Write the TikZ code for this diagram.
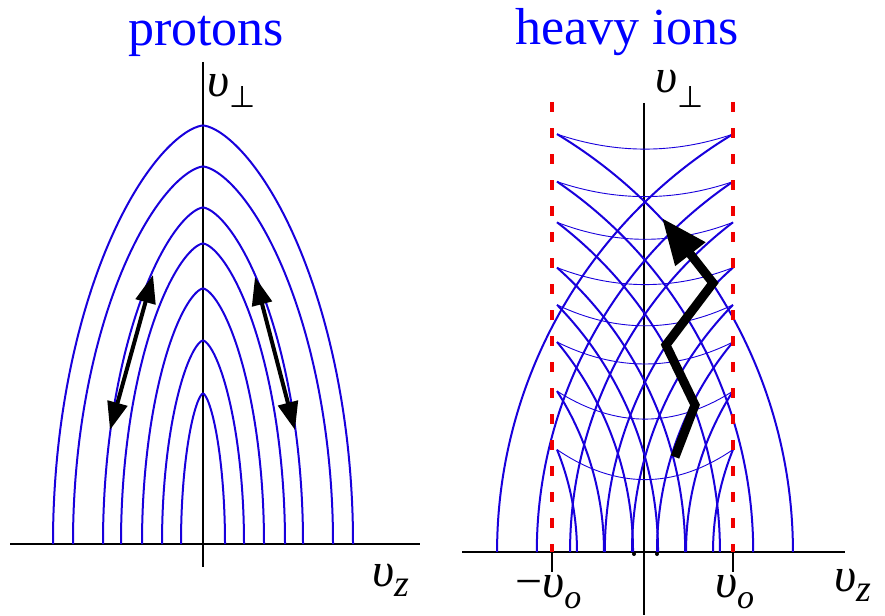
\documentclass[tikz,border=0pt]{standalone}
\usepackage{fontspec}
\setmainfont{Liberation Serif}
\newfontfamily\dejavu{DejaVu Sans}
\usetikzlibrary{arrows.meta}
\definecolor{curveblue}{RGB}{25,0,220}
\definecolor{titleblue}{RGB}{0,0,255}
\definecolor{dashred}{RGB}{240,0,0}
\newcommand{\vsym}{{\fontsize{48}{52}\selectfont\itshape υ}}
\newcommand{\perpsym}{{\dejavu\fontsize{30}{32}\selectfont ⊥}}
\newcommand{\subsym}[1]{{\fontsize{38}{40}\selectfont\itshape #1}}
\newcommand{\subo}{{\fontsize{34}{38}\selectfont\itshape o}}
\begin{document}
\begin{tikzpicture}[x=1pt,y=-1pt,
  axisline/.style={black, line width=2.2pt},
  arch/.style={curveblue, line width=2pt},
  thinarc/.style={curveblue, line width=0.9pt},
  resline/.style={dashred, line width=4pt, dash pattern=on 10pt off 16pt},
  dblarrow/.style={black, line width=4pt, {Triangle[length=28pt,width=20pt]}-{Triangle[length=28pt,width=20pt]}},
  zig/.style={black, line width=9pt, line join=miter, -{Triangle[length=46pt,width=36pt]}},
  title/.style={titleblue, font=\fontsize{52}{60}\selectfont, anchor=base, inner sep=0pt},
  lab/.style={anchor=base west, inner sep=0pt}]
\useasboundingbox (0,0) rectangle (885,615);
\fill[white] (0,0) rectangle (885,615);

% ---------- titles
\node[title] (tp) at (206,46) {protons};
\node[title] (th) at (627,45) {heavy ions};

% ---------- left panel
\draw[axisline] (10,544) -- (420,544);
\draw[axisline] (203,62) -- (203,567);
\foreach \aw/\hh in {150/418.5,130/377.5,100/336.5,82/300.5,61/255.5,41/203.5,22/150.5}
  \draw[arch] plot[domain=-90:90, samples=91, smooth]
    ({203+\aw*sin(\x)*(abs(sin(\x))+0.0001)^0.28},{544-\hh*cos(\x)});
\coordinate (la1) at (110,430); \coordinate (la2) at (153,275);
\coordinate (ra1) at (255,277); \coordinate (ra2) at (295,430);
\draw[dblarrow] (la1) -- (la2);
\draw[dblarrow] (ra1) -- (ra2);
\node[lab] (lperp) at (207,97) {\vsym\raisebox{-10pt}{\perpsym}};
\node[lab] (lz) at (372,586) {\vsym\raisebox{-10pt}{\subsym{z}}};

% ---------- right panel
\draw[axisline] (462,552) -- (845,552);
\draw[axisline] (644,103) -- (644,615);
\draw[axisline] (552,552) -- (552,572);
\draw[axisline] (733,552) -- (733,572);
\foreach \r/\hh/\ang/\sg in {488/417.9/58.9/15, 448/370.4/55.8/15, 415/329.7/52.6/17,
    380/284.4/48.5/17, 353/247.2/44.45/21, 328/210.0/39.8/22, 299/160.9/32.55/28, 272/102.4/22.1/30} {
  \draw[arch] (557,{552-\hh}) arc[start angle=-\ang, end angle=0, radius=\r];
  \draw[arch] (733,{552-\hh}) arc[start angle=180+\ang, end angle=180, radius=\r];
  \draw[thinarc] (557,{552-\hh}) .. controls (615.7,{552-\hh+4/3*\sg}) and (674.3,{552-\hh+4/3*\sg}) .. (733,{552-\hh});
}
\fill[black] (634,554) circle[radius=2];
\fill[black] (657,554) circle[radius=2];
\draw[resline] (552,102) -- (552,552);
\draw[resline] (733,102) -- (733,552);
\coordinate (z0) at (675,457); \coordinate (z1) at (695,405);
\coordinate (z2) at (666,345); \coordinate (z3) at (713,283);
\coordinate (z4) at (662,218);
\draw[zig] (z0) -- (z1) -- (z2) -- (z3) -- (z4);
\node[lab] (rperp) at (655,93) {\vsym\raisebox{-14pt}{\perpsym}};
\node[lab] (rz) at (834,591) {\vsym\raisebox{-10pt}{\subsym{z}}};
\node[lab] (mvo) at (515,597) {{\fontsize{48}{52}\selectfont −}\vsym\raisebox{-11pt}{\subo}};
\node[lab] (pvo) at (715,597) {\vsym\raisebox{-11pt}{\subo}};
\end{tikzpicture}
\end{document}
